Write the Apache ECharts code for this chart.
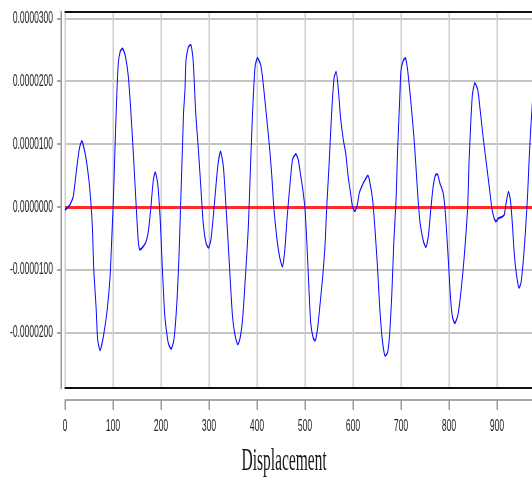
<!DOCTYPE html>
<html>
<head>
<meta charset="utf-8">
<script src="https://cdn.jsdelivr.net/npm/echarts@6/dist/echarts.min.js"></script>
<style>
  html, body { margin: 0; padding: 0; background: #fff; overflow: hidden; }
  /* the chart is laid out twice as wide and squeezed horizontally */
  #chart { width: 1064px; height: 486px; transform: scaleX(0.5); transform-origin: 0 0; }
</style>
</head>
<body>
<div id="chart"></div>
<script>
// displacement positions along the x axis
const positions = [
  0, 10, 17, 24, 30, 35, 42, 49, 53, 57, 60, 65, 68, 73, 80, 88, 94, 97,
  101, 104, 108, 111, 115, 120, 126, 132, 137, 142, 148, 153, 156, 162, 169, 174, 179, 184, 188, 193, 198,
  203, 208, 215, 221, 227, 233, 238, 241, 245, 247, 250, 252, 257, 262, 267, 272, 278, 283, 288, 294, 299,
  304, 309, 315, 319, 324, 330, 335, 340, 345, 349, 354, 360, 365, 370, 376, 382, 387, 391, 396,
  401, 408, 413, 420, 426, 431, 435, 441, 447, 453, 458, 463, 469, 474, 481, 486, 491, 495, 500,
  504, 508, 512, 517, 521, 526, 531, 537, 542, 545, 550, 554, 558, 561, 565, 569, 574, 580, 585, 590, 595, 599,
  604, 609, 613, 618, 625, 631, 635, 641, 646, 651, 656, 661, 667, 672, 676, 681, 685, 690, 693, 697,
  700, 705, 709, 713, 719, 724, 729, 734, 739, 744, 748, 752, 757, 762, 767, 772, 776, 781, 788, 793, 799,
  803, 807, 812, 818, 823, 830, 835, 839, 842, 846, 849, 854, 860, 865, 871, 877, 883, 889, 894, 898,
  903, 910, 915, 919, 924, 928, 932, 936, 941, 946, 950, 955, 960, 964, 967, 971, 976
];

// measured values at each position
const amplitude = [
  -0.05e-5, 0.03e-5, 0.16e-5, 0.59e-5, 0.93e-5, 1.05e-5, 0.85e-5, 0.48e-5, 0.16e-5, -0.31e-5, -1.0e-5, -1.63e-5, -2.11e-5, -2.28e-5, -2.06e-5, -1.63e-5, -1.1e-5, -0.58e-5,
  0.16e-5, 0.9e-5, 1.8e-5, 2.28e-5, 2.47e-5, 2.52e-5, 2.39e-5, 2.07e-5, 1.54e-5, 0.9e-5, 0.06e-5, -0.58e-5, -0.68e-5, -0.64e-5, -0.55e-5, -0.37e-5, 0, 0.43e-5, 0.55e-5, 0.38e-5, -0.15e-5,
  -1.0e-5, -1.74e-5, -2.16e-5, -2.26e-5, -2.11e-5, -1.53e-5, -0.68e-5, 0.06e-5, 1.01e-5, 1.5e-5, 1.86e-5, 2.33e-5, 2.54e-5, 2.58e-5, 2.33e-5, 1.54e-5, 0.9e-5, 0.32e-5, -0.26e-5, -0.58e-5, -0.65e-5,
  -0.52e-5, -0.15e-5, 0.38e-5, 0.69e-5, 0.88e-5, 0.64e-5, 0.06e-5, -0.58e-5, -1.26e-5, -1.74e-5, -2.03e-5, -2.19e-5, -2.08e-5, -1.79e-5, -1.1e-5, -0.31e-5, 0.75e-5, 1.54e-5, 2.23e-5,
  2.37e-5, 2.25e-5, 1.96e-5, 1.43e-5, 0.96e-5, 0.48e-5, 0, -0.47e-5, -0.79e-5, -0.95e-5, -0.68e-5, -0.15e-5, 0.38e-5, 0.75e-5, 0.84e-5, 0.75e-5, 0.5e-5, 0.3e-5, -0.03e-5,
  -0.58e-5, -1.26e-5, -1.85e-5, -2.08e-5, -2.13e-5, -1.95e-5, -1.58e-5, -1.1e-5, -0.58e-5, -0.05e-5, 0.64e-5, 1.27e-5, 1.8e-5, 2.07e-5, 2.15e-5, 1.91e-5, 1.43e-5, 1.06e-5, 0.85e-5, 0.48e-5, 0.22e-5, 0,
  -0.07e-5, 0.03e-5, 0.22e-5, 0.32e-5, 0.43e-5, 0.5e-5, 0.4e-5, 0.11e-5, -0.37e-5, -0.95e-5, -1.63e-5, -2.11e-5, -2.37e-5, -2.32e-5, -2.06e-5, -1.37e-5, -0.58e-5, 0.16e-5, 0.9e-5, 1.65e-5,
  2.17e-5, 2.33e-5, 2.37e-5, 2.23e-5, 1.8e-5, 1.38e-5, 0.9e-5, 0.3e-5, -0.2e-5, -0.45e-5, -0.58e-5, -0.64e-5, -0.47e-5, -0.05e-5, 0.32e-5, 0.51e-5, 0.52e-5, 0.38e-5, 0.22e-5, -0.15e-5, -0.89e-5,
  -1.42e-5, -1.74e-5, -1.85e-5, -1.74e-5, -1.48e-5, -0.95e-5, -0.47e-5, 0, 0.75e-5, 1.43e-5, 1.8e-5, 1.97e-5, 1.86e-5, 1.54e-5, 1.12e-5, 0.75e-5, 0.38e-5, 0, -0.18e-5, -0.23e-5,
  -0.18e-5, -0.16e-5, -0.13e-5, 0.06e-5, 0.24e-5, 0.11e-5, -0.26e-5, -0.74e-5, -1.1e-5, -1.29e-5, -1.21e-5, -0.84e-5, -0.31e-5, 0.22e-5, 0.75e-5, 1.33e-5, 1.9e-5
];

// tick values on both axes
const xTicks = [0, 100, 200, 300, 400, 500, 600, 700, 800, 900];
const yTicks = [-0.00002, -0.00001, 0, 0.00001, 0.00002, 0.00003];

const xRange = [0, 973];
const yRange = [-0.0000288, 0.000031];

const labelFont = { fontFamily: 'Liberation Sans, Arial, sans-serif', fontSize: 17, color: '#222' };

const chart = echarts.init(document.getElementById('chart'), null, { renderer: 'canvas' });

chart.setOption({
  animation: false,
  backgroundColor: '#fff',
  title: {
    text: 'Displacement',
    left: 483,
    top: 446,
    padding: 0,
    textStyle: { fontFamily: 'Liberation Serif, Times New Roman, serif', fontSize: 31, fontWeight: 'normal', color: '#1a1a1a' }
  },
  grid: { left: 130, right: 0, top: 12, bottom: 98, containLabel: false },
  xAxis: [
    {
      type: 'value', position: 'bottom', offset: 12,
      min: xRange[0], max: xRange[1],
      axisLine: { onZero: false, lineStyle: { color: '#a8a8a8', width: 2 } },
      axisTick: { customValues: xTicks, length: 10, lineStyle: { color: '#9a9a9a', width: 3 } },
      axisLabel: Object.assign({ customValues: xTicks, margin: 18 }, labelFont),
      splitLine: { show: true, lineStyle: { color: '#cfcfcf', width: 3 } }
    },
    {
      type: 'value', position: 'top', offset: 0,
      min: xRange[0], max: xRange[1],
      axisLine: { onZero: false, lineStyle: { color: '#111', width: 2 } },
      axisTick: { show: false }, axisLabel: { show: false }, splitLine: { show: false }
    },
    {
      type: 'value', position: 'bottom', offset: 0,
      min: xRange[0], max: xRange[1],
      axisLine: { onZero: false, lineStyle: { color: '#111', width: 2 } },
      axisTick: { show: false }, axisLabel: { show: false }, splitLine: { show: false }
    }
  ],
  yAxis: {
    type: 'value', position: 'left', offset: 8,
    min: yRange[0], max: yRange[1],
    axisLine: { show: true, onZero: false, lineStyle: { color: '#9a9a9a', width: 3 } },
    axisTick: { show: true, customValues: yTicks, length: 8, lineStyle: { color: '#8a8a8a', width: 1.5 } },
    axisLabel: Object.assign({ customValues: yTicks, margin: 16, formatter: v => v.toFixed(7) }, labelFont),
    splitLine: { show: true, lineStyle: { color: '#c4c4c4', width: 2 } }
  },
  series: [
    {
      type: 'line',
      xAxisIndex: 0,
      yAxisIndex: 0,
      data: positions.map((x, i) => [x, amplitude[i]]),
      showSymbol: false,
      symbol: 'none',
      smooth: 0.2,
      clip: true,
      z: 3,
      lineStyle: { color: '#0a0aff', width: 2 },
      markLine: {
        silent: true,
        symbol: 'none',
        z: 2,
        label: { show: false },
        lineStyle: { color: '#ff2a2a', width: 3, type: 'solid' },
        data: [{ yAxis: 0 }]
      }
    }
  ]
});
</script>
</body>
</html>
